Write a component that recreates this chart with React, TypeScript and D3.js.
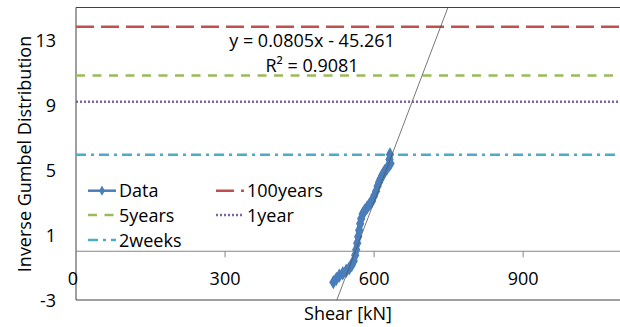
import React from 'react'
import * as d3 from 'd3'

// sorted shear values [kN] and their inverse Gumbel reduced variate
const shear = [518, 524, 530, 537, 544, 550, 555, 559, 562, 564, 566, 568, 570, 572, 574, 577, 581, 586, 591, 596, 600, 604, 607, 610, 613, 616, 619, 622, 626, 630, 633, 631, 632]
const gumbel = [-1.9, -1.7, -1.5, -1.35, -1.2, -1.05, -0.85, -0.6, -0.25, 0.1, 0.5, 0.9, 1.3, 1.7, 2.0, 2.3, 2.5, 2.7, 2.9, 3.1, 3.4, 3.7, 4.0, 4.25, 4.45, 4.65, 4.8, 4.95, 5.1, 5.3, 5.4, 5.65, 5.95]

const levelNames = ['100years', '5years', '1year', '2weeks']
const levelValues = [13.81, 10.81, 9.2, 5.94]
const levelColors = ['#C0504D', '#9BBB59', '#8064A2', '#4BACC6']
const levelDash = ['18,7', '9,7.5', '2,2', '10,5,3,5']

const slope = 0.0805
const intercept = -45.261

const xTicks = [0, 300, 600, 900]
const yTicks = [-3, 1, 5, 9, 13]

const W = 620
const H = 327
const left = 76
const top = 7.5
const bottom = 300
const font = '"Open Sans", sans-serif'
const fs = 18

export default function App() {
  const x = d3.scaleLinear().domain([0, 1100]).range([left, 622.5])
  const y = d3.scaleLinear().domain([-3, 15]).range([bottom, top])

  const pts = shear.map((s, i) => [s, gumbel[i]] as [number, number])
  const line = d3.line<[number, number]>().x(d => x(d[0])).y(d => y(d[1]))
  const diamond = d3.symbol().type(d3.symbolDiamond).size(60)()
  const legendDiamond = d3.symbol().type(d3.symbolDiamond).size(30)()

  const trendX0 = (-3 - intercept) / slope
  const trendX1 = (15 - intercept) / slope

  const legend = [
    { name: 'Data', lx: 88, ly: 190.7, color: '#4A7EBB', dash: undefined as string | undefined, w: 2.5, marker: true },
    { name: levelNames[0], lx: 216, ly: 190.7, color: levelColors[0], dash: levelDash[0], w: 2.5, marker: false },
    { name: levelNames[1], lx: 88, ly: 215, color: levelColors[1], dash: levelDash[1], w: 2.5, marker: false },
    { name: levelNames[2], lx: 216, ly: 215, color: levelColors[2], dash: levelDash[2], w: 2.5, marker: false },
    { name: levelNames[3], lx: 88, ly: 240, color: levelColors[3], dash: levelDash[3], w: 2.5, marker: false },
  ]

  return (
    <svg width={W} height={H} style={{ position: 'absolute', left: 0, top: 0, background: '#fff' }} fontFamily={font} fontSize={fs}>
      <defs>
        <clipPath id="plot">
          <rect x={left} y={top} width={W - left} height={bottom - top} />
        </clipPath>
      </defs>

      {/* frame */}
      <line x1={left} x2={W} y1={top} y2={top} stroke="#404040" strokeWidth={1} />
      <line x1={left} x2={W} y1={bottom} y2={bottom} stroke="#404040" strokeWidth={1} />
      <line x1={left} x2={left} y1={top} y2={bottom} stroke="#404040" strokeWidth={1} />

      {/* x axis at y = 0 */}
      <line x1={left} x2={W} y1={y(0)} y2={y(0)} stroke="#868686" strokeWidth={1} />
      {xTicks.map(t => (
        <g key={t}>
          {t > 0 && <line x1={x(t)} x2={x(t)} y1={y(0)} y2={y(0) + 6} stroke="#868686" strokeWidth={1} />}
          <text x={x(t) - (t === 0 ? 3 : 0)} y={285} textAnchor="middle" fill="#000">{t}</text>
        </g>
      ))}
      {yTicks.map(t => (
        <text key={t} x={56} y={y(t) + 6.5} textAnchor="end" fill="#000">{t}</text>
      ))}

      {/* return level lines */}
      {levelValues.map((v, i) => (
        <line key={levelNames[i]} x1={left} x2={W} y1={y(v)} y2={y(v)}
          stroke={levelColors[i]} strokeWidth={2.5} strokeDasharray={levelDash[i]} />
      ))}

      <g clipPath="url(#plot)">
        <path d={line(pts) || ''} fill="none" stroke="#4A7EBB" strokeWidth={5.5} strokeLinejoin="round" strokeLinecap="round" />
        {pts.map((p, i) => (
          <path key={i} d={diamond || ''} transform={`translate(${x(p[0])},${y(p[1])})`} fill="#4A7EBB" />
        ))}
        <line x1={x(trendX0)} y1={y(-3)} x2={x(trendX1)} y2={y(15)} stroke="#555" strokeWidth={0.8} />
      </g>

      {/* trendline label */}
      <text x={312} y={46.7} textAnchor="middle" fill="#000">y = 0.0805x - 45.261</text>
      <text x={312} y={71.5} textAnchor="middle" fill="#000">R² = 0.9081</text>

      {/* legend */}
      {legend.map(l => (
        <g key={l.name}>
          <line x1={l.lx} x2={l.lx + 28} y1={l.ly} y2={l.ly} stroke={l.color} strokeWidth={l.w} strokeDasharray={l.dash} />
          {l.marker && <path d={legendDiamond || ''} transform={`translate(${l.lx + 14},${l.ly})`} fill={l.color} />}
          <text x={l.lx + 31} y={l.ly + 6.5} fill="#000">{l.name}</text>
        </g>
      ))}

      {/* axis titles */}
      <text x={(left + W) / 2} y={320} textAnchor="middle" fill="#000">Shear [kN]</text>
      <text transform={`translate(31,154) rotate(-90)`} textAnchor="middle" fill="#000">Inverse Gumbel Distribution</text>
    </svg>
  )
}
